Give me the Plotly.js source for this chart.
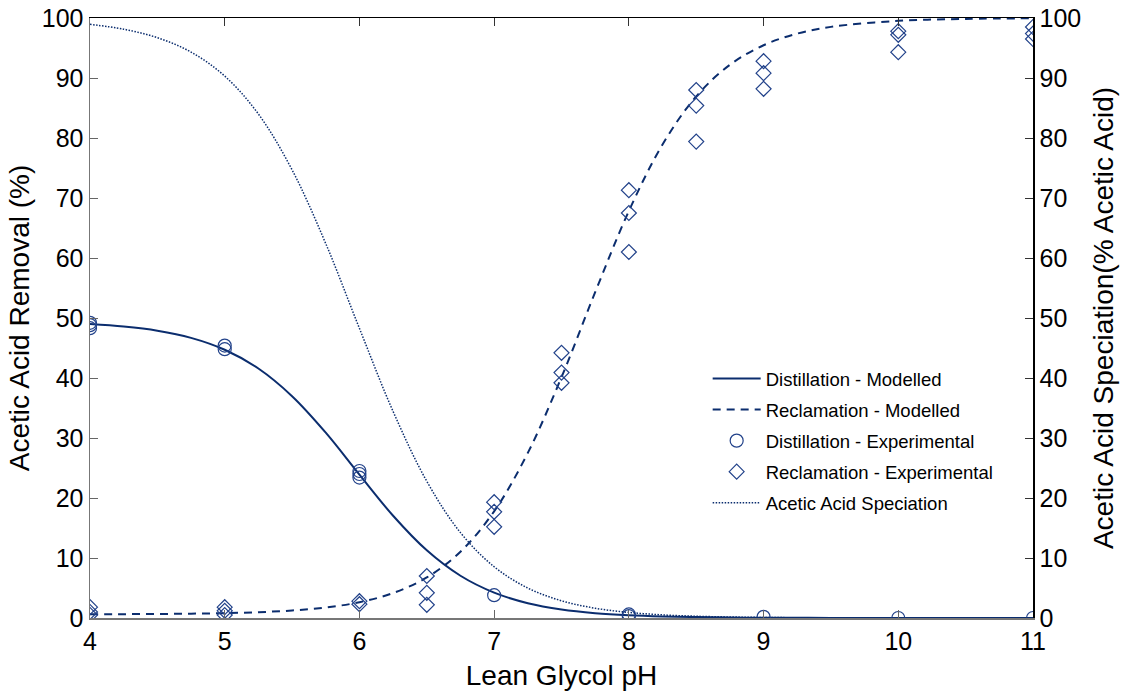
<!DOCTYPE html>
<html>
<head>
<meta charset="utf-8">
<script src="https://cdn.plot.ly/plotly-3.0.1.min.js"></script>
<style>html,body{margin:0;padding:0;background:#fff;}#chart{width:1132px;height:695px;}</style>
</head>
<body>
<div id="chart"></div>
<script>
// Modelled curves
const modelPH = [4.00, 4.25, 4.50, 4.75, 5.00, 5.25, 5.50, 5.75, 6.00, 6.25, 6.50, 6.75, 7.00, 7.25, 7.50, 7.75, 8.00, 8.25, 8.50, 8.75, 9.00, 9.25, 9.50, 10.00, 10.50, 11.00];
const distModel = [48.98, 48.57, 47.88, 46.69, 44.71, 41.58, 36.97, 30.89, 23.89, 17.04, 11.28, 7.04, 4.23, 2.47, 1.42, 0.81, 0.46, 0.26, 0.15, 0.08, 0.05, 0.03, 0.01, 0.00, 0.00, 0.00];
const reclModel = [0.62, 0.64, 0.67, 0.72, 0.81, 0.97, 1.25, 1.75, 2.63, 4.16, 6.76, 11.05, 17.78, 27.52, 40.14, 54.30, 67.83, 78.92, 86.93, 92.20, 95.46, 97.40, 98.52, 99.53, 99.85, 99.95];
const speciation = [98.94, 98.13, 96.72, 94.32, 90.32, 84.00, 74.69, 62.40, 48.27, 34.42, 22.79, 14.23, 8.54, 4.99, 2.87, 1.63, 0.93, 0.52, 0.29, 0.17, 0.09, 0.05, 0.03, 0.01, 0.00, 0.00];

// Experimental points
const distExpPH = [4, 4, 4, 5, 5, 6, 6, 6, 7, 8, 8, 9, 10, 11];
const distExp = [48.3, 48.8, 49.2, 44.8, 45.4, 23.4, 24.0, 24.5, 3.8, 0.6, 0.3, 0.2, 0.0, 0.0];
const reclExpPH = [4, 4, 4, 5, 5, 5, 6, 6, 6.5, 6.5, 6.5, 7, 7, 7, 7.5, 7.5, 7.5, 8, 8, 8, 8.5, 8.5, 8.5, 9, 9, 9, 10, 10, 10, 11, 11, 11];
const reclExp = [0.5, 1.0, 1.8, 0.5, 1.2, 1.8, 2.3, 2.8, 7.0, 4.2, 2.2, 19.3, 17.7, 15.2, 44.2, 40.9, 39.2, 71.3, 67.5, 61.0, 88.0, 85.4, 79.4, 92.8, 90.8, 88.2, 97.8, 97.2, 94.3, 98.5, 97.4, 96.5];

const xTicks = [4, 5, 6, 7, 8, 9, 10, 11];
const yTicks = [0, 10, 20, 30, 40, 50, 60, 70, 80, 90, 100];

const navy = '#0b2d6e';
const mk = '#22428a';
const FONT = 'Liberation Sans, Arial, sans-serif';

const traces = [
  {x: modelPH, y: distModel, name: 'Distillation - Modelled', mode: 'lines', line: {color: navy, width: 2, shape: 'spline'}, legendgroup: 'a'},
  {x: modelPH, y: reclModel, name: 'Reclamation - Modelled', mode: 'lines', line: {color: navy, width: 2, dash: '8px,6px', shape: 'spline'}, legendgroup: 'b'},
  {x: distExpPH, y: distExp, name: 'Distillation - Experimental', mode: 'markers', marker: {symbol: 'circle-open', size: 13, color: mk, line: {width: 1.2, color: mk}}, legendgroup: 'c'},
  {x: reclExpPH, y: reclExp, name: 'Reclamation - Experimental', mode: 'markers', marker: {symbol: 'diamond-open', size: 11.5, color: mk, line: {width: 1.2, color: mk}}, legendgroup: 'd'},
  {x: modelPH, y: speciation, name: 'Acetic Acid Speciation', mode: 'lines', yaxis: 'y2', line: {color: navy, width: 1.5, dash: '1.5px,1.5px', shape: 'spline'}, legendgroup: 'e'}
];

const tickFont = {family: FONT, size: 25, color: '#000'};
const titleFont = {family: FONT, size: 28, color: '#000'};

const layout = {
  width: 1132, height: 695,
  margin: {l: 90, r: 99, t: 18, b: 77},
  paper_bgcolor: '#fff', plot_bgcolor: '#fff',
  showlegend: true,
  legend: {x: 0.655, y: 0.43, xanchor: 'left', yanchor: 'top', itemwidth: 48, font: {family: FONT, size: 18.5, color: '#000'}, bgcolor: 'rgba(0,0,0,0)', tracegroupgap: 4},
  xaxis: {range: [4, 11], tickvals: xTicks, ticks: 'inside', ticklen: 8, tickcolor: '#666', showgrid: false, zeroline: false,
          showline: true, linecolor: '#777', linewidth: 1.5, tickfont: tickFont,
          title: {text: 'Lean Glycol pH', font: titleFont, standoff: 12}},
  xaxis2: {range: [4, 11], overlaying: 'x', side: 'top', tickvals: xTicks, ticks: 'inside', ticklen: 8, tickcolor: '#333',
           showticklabels: false, showgrid: false, zeroline: false, showline: true, linecolor: '#000', linewidth: 1.5},
  yaxis: {range: [0, 100], tickvals: yTicks, ticks: 'inside', ticklen: 8, tickcolor: '#666', showgrid: false, zeroline: false,
          showline: true, linecolor: '#777', linewidth: 1.5, tickfont: tickFont,
          title: {text: 'Acetic Acid Removal (%)', font: titleFont, standoff: 4}},
  yaxis2: {range: [0, 100], overlaying: 'y', side: 'right', tickvals: yTicks, ticks: 'inside', ticklen: 8, tickcolor: '#333',
           showgrid: false, zeroline: false, showline: true, linecolor: '#000', linewidth: 1.5, tickfont: tickFont,
           title: {text: 'Acetic Acid Speciation(% Acetic Acid)', font: titleFont, standoff: 13}}
};

// invisible trace to activate the top axis
traces.push({x: [4, 11], y: [0, 0], xaxis: 'x2', mode: 'lines', line: {width: 0}, showlegend: false, hoverinfo: 'skip'});

Plotly.newPlot('chart', traces, layout, {staticPlot: true});
</script>
</body>
</html>
